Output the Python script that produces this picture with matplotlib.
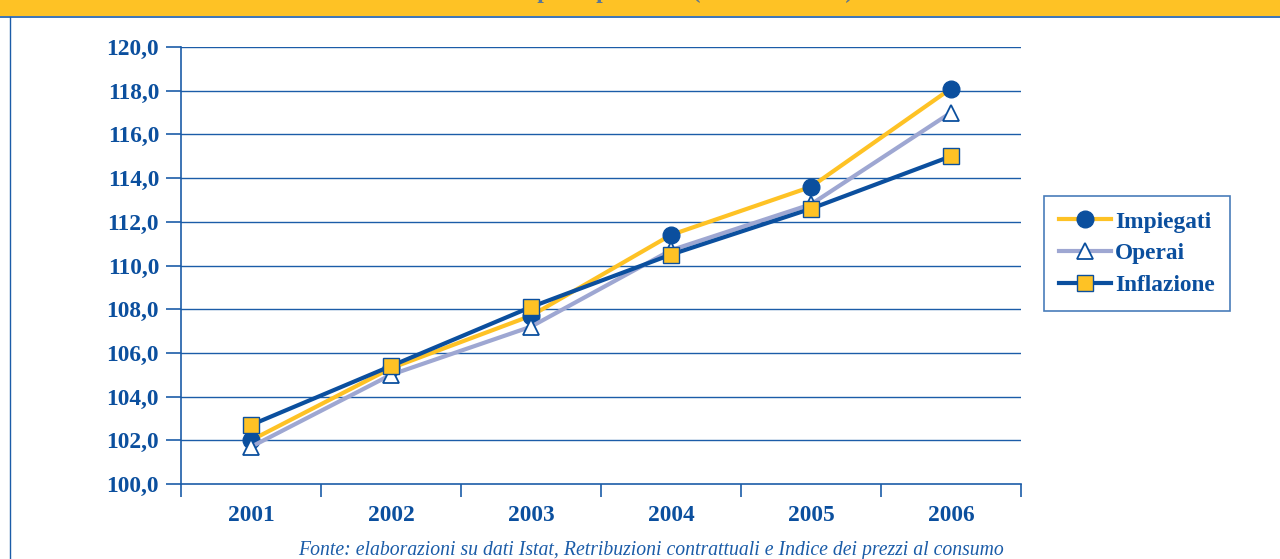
import matplotlib
matplotlib.use("Agg")
import matplotlib.pyplot as plt
from matplotlib.lines import Line2D
from matplotlib.patches import Rectangle

years = ["2001", "2002", "2003", "2004", "2005", "2006"]
impiegati = [102.0, 105.3, 107.7, 111.4, 113.6, 118.1]
operai = [101.7, 105.0, 107.2, 110.7, 112.8, 117.0]
inflazione = [102.7, 105.4, 108.1, 110.5, 112.6, 115.0]
yticks = [100, 102, 104, 106, 108, 110, 112, 114, 116, 118, 120]

BLUE = "#0b4f9e"
GRID = "#1b5ca8"
YEL = "#fec225"
LILAC = "#9ea7d2"
FONT = "Liberation Serif"
FS = 16.8

fig = plt.figure(figsize=(12.8, 5.59), dpi=100)
W, H = 1280, 559

# banner and frame
fig.add_artist(Rectangle((0, 1 - 16 / H), 1, 16 / H, transform=fig.transFigure,
                         facecolor=YEL, edgecolor="none", zorder=0))
fig.add_artist(Line2D([0, 1], [1 - 16.5 / H, 1 - 16.5 / H], transform=fig.transFigure,
                      color=GRID, lw=1.2))
fig.add_artist(Line2D([10 / W, 10 / W], [0, 1 - 16.5 / H], transform=fig.transFigure,
                      color=GRID, lw=1.0))
fig.text(655 / W, 1 - 3 / H, "Retribuzioni contrattuali per dipendente (base 2000=100) - Anni 2001-2006",
         ha="center", va="bottom", fontsize=16.8, color="#5b7795", family=FONT, fontweight="bold")

ax = fig.add_axes([181 / W, 1 - 484 / H, 840 / W, 437 / H])
x = list(range(1, len(years) + 1))

ax.plot(x, impiegati, color=YEL, lw=3, marker="o", ms=12, mfc=BLUE, mec=BLUE,
        label="Impiegati", zorder=3)
ax.plot(x, operai, color=LILAC, lw=3, marker="^", ms=11.5, mfc="white", mec=BLUE,
        mew=1.3, label="Operai", zorder=4)
ax.plot(x, inflazione, color=BLUE, lw=3, marker="s", ms=11.5, mfc=YEL, mec=BLUE,
        mew=1.0, label="Inflazione", zorder=5)

ax.set_xlim(0.5, len(years) + 0.5)
ax.set_ylim(100, 120)
ax.set_yticks(yticks)
ax.set_yticklabels([f"{v:.1f}".replace(".", ",") for v in yticks])
ax.set_xticks(x)
ax.set_xticklabels(years)
ax.set_xticks([i + 0.5 for i in range(0, len(years) + 1)], minor=True)

for yv in yticks[1:]:
    ax.axhline(yv, color=GRID, lw=1.0, zorder=1)

for s in ["top", "right"]:
    ax.spines[s].set_visible(False)
for s in ["left", "bottom"]:
    ax.spines[s].set_color(GRID)
    ax.spines[s].set_linewidth(1.2)

ax.tick_params(axis="y", which="major", length=10.8, width=1.2, color=GRID, pad=5,
               labelcolor=BLUE, labelsize=FS)
ax.tick_params(axis="x", which="major", length=0, pad=15, labelcolor=BLUE, labelsize=FS)
ax.tick_params(axis="x", which="minor", length=9.5, width=1.2, color=GRID)
for lab in ax.get_xticklabels() + ax.get_yticklabels():
    lab.set_fontfamily(FONT)
    lab.set_fontweight("bold")

leg = ax.legend(loc="upper left", bbox_to_anchor=(1044 / W, 1 - 196 / H),
                bbox_transform=fig.transFigure, frameon=True, fancybox=False,
                prop={"family": FONT, "weight": "bold", "size": FS},
                handlelength=2.2, handletextpad=0.2, labelspacing=0.45,
                borderpad=0.65, borderaxespad=0)
leg.get_frame().set_edgecolor(GRID)
leg.get_frame().set_linewidth(1.2)
for t in leg.get_texts():
    t.set_color(BLUE)

fig.text(651 / W, 1 - 550 / H,
         "Fonte: elaborazioni su dati Istat, Retribuzioni contrattuali e Indice dei prezzi al consumo",
         ha="center", va="center", fontsize=14.2, color=GRID, family=FONT, style="italic")

fig.savefig("out.png", dpi=100)
